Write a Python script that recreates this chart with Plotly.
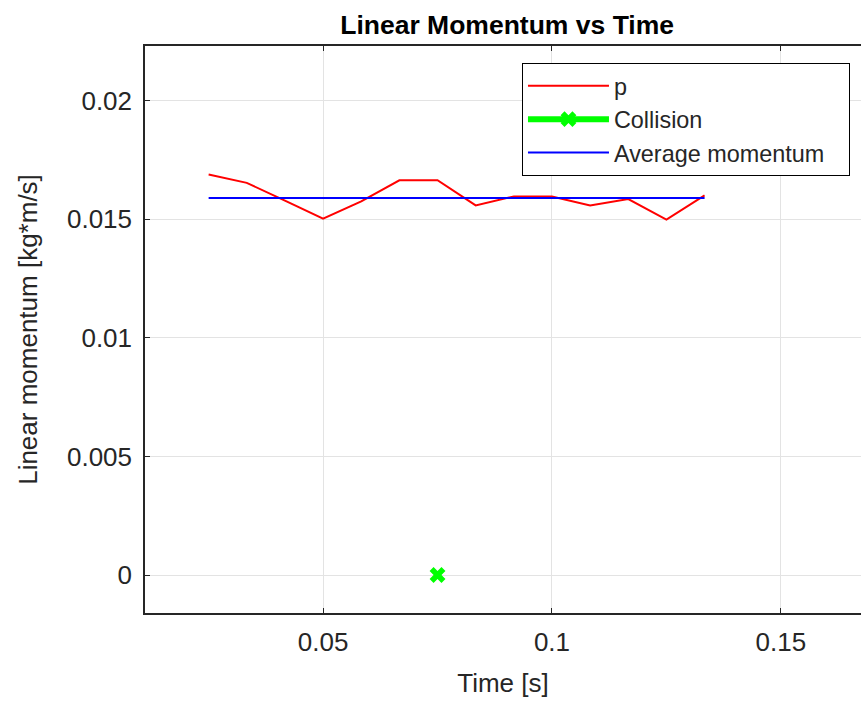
import plotly.graph_objects as go

# Data
time_s = [3/120, 4/120, 5/120, 6/120, 7/120, 8/120, 9/120, 10/120,
          11/120, 12/120, 13/120, 14/120, 15/120, 16/120]
momentum = [0.01688, 0.01653, 0.01578, 0.01502, 0.01575, 0.01664, 0.01664,
            0.01558, 0.01596, 0.01596, 0.01558, 0.01585, 0.01498, 0.01600]
collision_t = [0.075]
collision_p = [0.0]
avg_t = [3/120, 16/120]
avg_p = [0.01589, 0.01589]

x_ticks = [0.05, 0.1, 0.15]
x_tick_text = ["0.05", "0.1", "0.15"]
y_ticks = [0, 0.005, 0.01, 0.015, 0.02]
y_tick_text = ["0", "0.005", "0.01", "0.015", "0.02"]

FONT = "Liberation Sans, Arial, sans-serif"
TXT = "#262626"

fig = go.Figure()
fig.add_trace(go.Scatter(x=time_s, y=momentum, mode="lines", name="p",
                         line=dict(color="#ff0000", width=2)))
fig.add_trace(go.Scatter(x=collision_t, y=collision_p, mode="lines+markers", name="Collision",
                         line=dict(color="#00ff00", width=6),
                         marker=dict(color="#00ff00", symbol="x", size=14,
                                     line=dict(width=0))))
fig.add_trace(go.Scatter(x=avg_t, y=avg_p, mode="lines",
                         name="Average momentum\u00a0\u00a0\u00a0",
                         line=dict(color="#0000ff", width=2)))

fig.update_layout(
    width=861, height=705,
    margin=dict(l=145, r=0, t=46, b=92),
    paper_bgcolor="white", plot_bgcolor="white",
    font=dict(family=FONT, size=26, color=TXT),
    title=dict(text="<b>Linear Momentum vs Time</b>", x=0.589, xanchor="center",
               y=0.965, yanchor="middle",
               font=dict(family=FONT, size=26.5, color="black")),
    showlegend=True,
    legend=dict(x=0.5265, y=0.97, xanchor="left", yanchor="top",
                bordercolor="black", borderwidth=1, bgcolor="white",
                font=dict(family=FONT, size=23.4, color=TXT),
                tracegroupgap=0, itemwidth=81),
)
fig.update_xaxes(range=[0.0111, 0.1675], tickvals=x_ticks, ticktext=x_tick_text,
                 showgrid=True, gridcolor="#e3e3e3", gridwidth=1,
                 showline=True, linecolor="#262626", linewidth=1.5, mirror="ticks",
                 ticks="inside", ticklen=5, tickcolor="#262626", zeroline=False,
                 ticklabelstandoff=5,
                 title=dict(text="Time [s]", standoff=18,
                            font=dict(family=FONT, size=26, color=TXT)))
fig.update_yaxes(range=[-0.0016, 0.0223], tickvals=y_ticks, ticktext=y_tick_text,
                 showgrid=True, gridcolor="#e3e3e3", gridwidth=1,
                 showline=True, linecolor="#262626", linewidth=1.5, mirror=False,
                 ticks="inside", ticklen=5, tickcolor="#262626", zeroline=False,
                 ticklabelstandoff=6,
                 title=dict(text="Linear momentum [kg*m/s]", standoff=22,
                            font=dict(family=FONT, size=26, color=TXT)))

fig.write_html("out.html")
